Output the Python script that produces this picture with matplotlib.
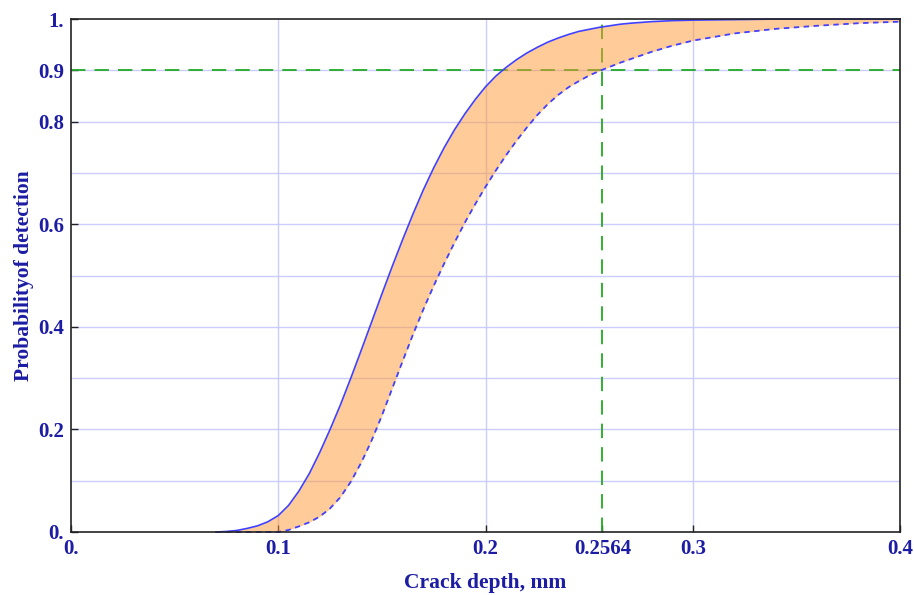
import matplotlib
matplotlib.use("Agg")
import matplotlib.pyplot as plt

# crack depth (mm) and probability of detection
depth = [0.070, 0.075, 0.080, 0.085, 0.090, 0.095, 0.100, 0.105, 0.110, 0.115,
         0.120, 0.125, 0.130, 0.135, 0.140, 0.145, 0.150, 0.155, 0.160, 0.165,
         0.170, 0.175, 0.180, 0.185, 0.190, 0.195, 0.200, 0.205, 0.210, 0.215,
         0.220, 0.225, 0.230, 0.235, 0.240, 0.245, 0.250, 0.255, 0.260, 0.265,
         0.270, 0.280, 0.290, 0.300, 0.320, 0.340, 0.360, 0.380, 0.400]
pod_upper = [0.000, 0.001, 0.003, 0.007, 0.012, 0.020, 0.032, 0.052, 0.080, 0.114,
             0.155, 0.200, 0.248, 0.300, 0.354, 0.409, 0.464, 0.518, 0.570, 0.620,
             0.667, 0.710, 0.749, 0.784, 0.815, 0.843, 0.868, 0.889, 0.906, 0.921,
             0.934, 0.945, 0.955, 0.963, 0.970, 0.976, 0.980, 0.984, 0.987, 0.990,
             0.992, 0.995, 0.997, 0.998, 0.999, 1.000, 1.000, 1.000, 1.000]
pod_lower = [0.000, 0.000, 0.000, 0.000, 0.000, 0.000, 0.000, 0.004, 0.011, 0.019,
             0.030, 0.046, 0.068, 0.098, 0.135, 0.178, 0.227, 0.280, 0.333, 0.385,
             0.434, 0.480, 0.523, 0.564, 0.603, 0.639, 0.673, 0.705, 0.735, 0.763,
             0.789, 0.813, 0.834, 0.852, 0.867, 0.879, 0.890, 0.899, 0.907, 0.915,
             0.922, 0.936, 0.948, 0.958, 0.972, 0.981, 0.987, 0.992, 0.995]

x_ticks = [0.0, 0.1, 0.2, 0.2564, 0.3, 0.4]
x_tick_labels = ["0.", "0.1", "0.2", "0.2564", "0.3", "0.4"]
y_ticks = [0.0, 0.2, 0.4, 0.6, 0.8, 0.9, 1.0]
y_tick_labels = ["0.", "0.2", "0.4", "0.6", "0.8", "0.9", "1."]
x_grid = [0.1, 0.2, 0.3]
y_grid = [0.1, 0.2, 0.3, 0.4, 0.5, 0.6, 0.7, 0.8, 0.9]
target_pod = 0.9
target_depth = 0.2564

text_color = "#1c1ca4"
curve_color = "#4040ff"
font = "Liberation Serif"

fig = plt.figure(figsize=(9.14, 5.95), dpi=100)
ax = fig.add_axes([0.0777, 0.1059, 0.907, 0.862])

# grid lines (under the translucent fill)
for gx in x_grid:
    ax.axvline(gx, color="#ccccff", lw=1.0, zorder=1)
for gy in y_grid:
    ax.axhline(gy, color="#ccccff", lw=1.0, zorder=1)

# 90% detection reference lines
ax.axhline(target_pod, color="#22aa22", lw=1.3, ls=(0, (8, 5)), zorder=2)
ax.axvline(target_depth, color="#22aa22", lw=1.3, ls=(0, (8, 5)), zorder=2)

ax.fill_between(depth, pod_lower, pod_upper, color="#ff9933", alpha=0.5,
                lw=0, zorder=3)
ax.plot(depth, pod_upper, color=curve_color, lw=1.2, zorder=4, clip_on=False)
ax.plot(depth, pod_lower, color=curve_color, lw=1.3, ls=(0, (3, 2.5)),
        zorder=4, clip_on=False)

ax.set_xlim(0, 0.4)
ax.set_ylim(0, 1)
ax.set_xticks(x_ticks)
ax.set_xticklabels(x_tick_labels)
ax.set_yticks(y_ticks)
ax.set_yticklabels(y_tick_labels)
ax.tick_params(direction="in", length=5, width=1, color="#222222",
               labelcolor=text_color, labelsize=15, pad=5)
for lab in ax.get_xticklabels() + ax.get_yticklabels():
    lab.set_fontfamily(font)
    lab.set_fontweight("bold")

for sp in ax.spines.values():
    sp.set_color("#222222")
    sp.set_linewidth(1.2)
    sp.set_zorder(5)

ax.set_xlabel("Crack depth, mm", fontsize=15.5, fontweight="bold",
              family=font, color=text_color, labelpad=10)
ax.set_ylabel("Probabilityof detection", fontsize=15.5, fontweight="bold",
              family=font, color=text_color, labelpad=3)

fig.savefig("out.png", dpi=100)
